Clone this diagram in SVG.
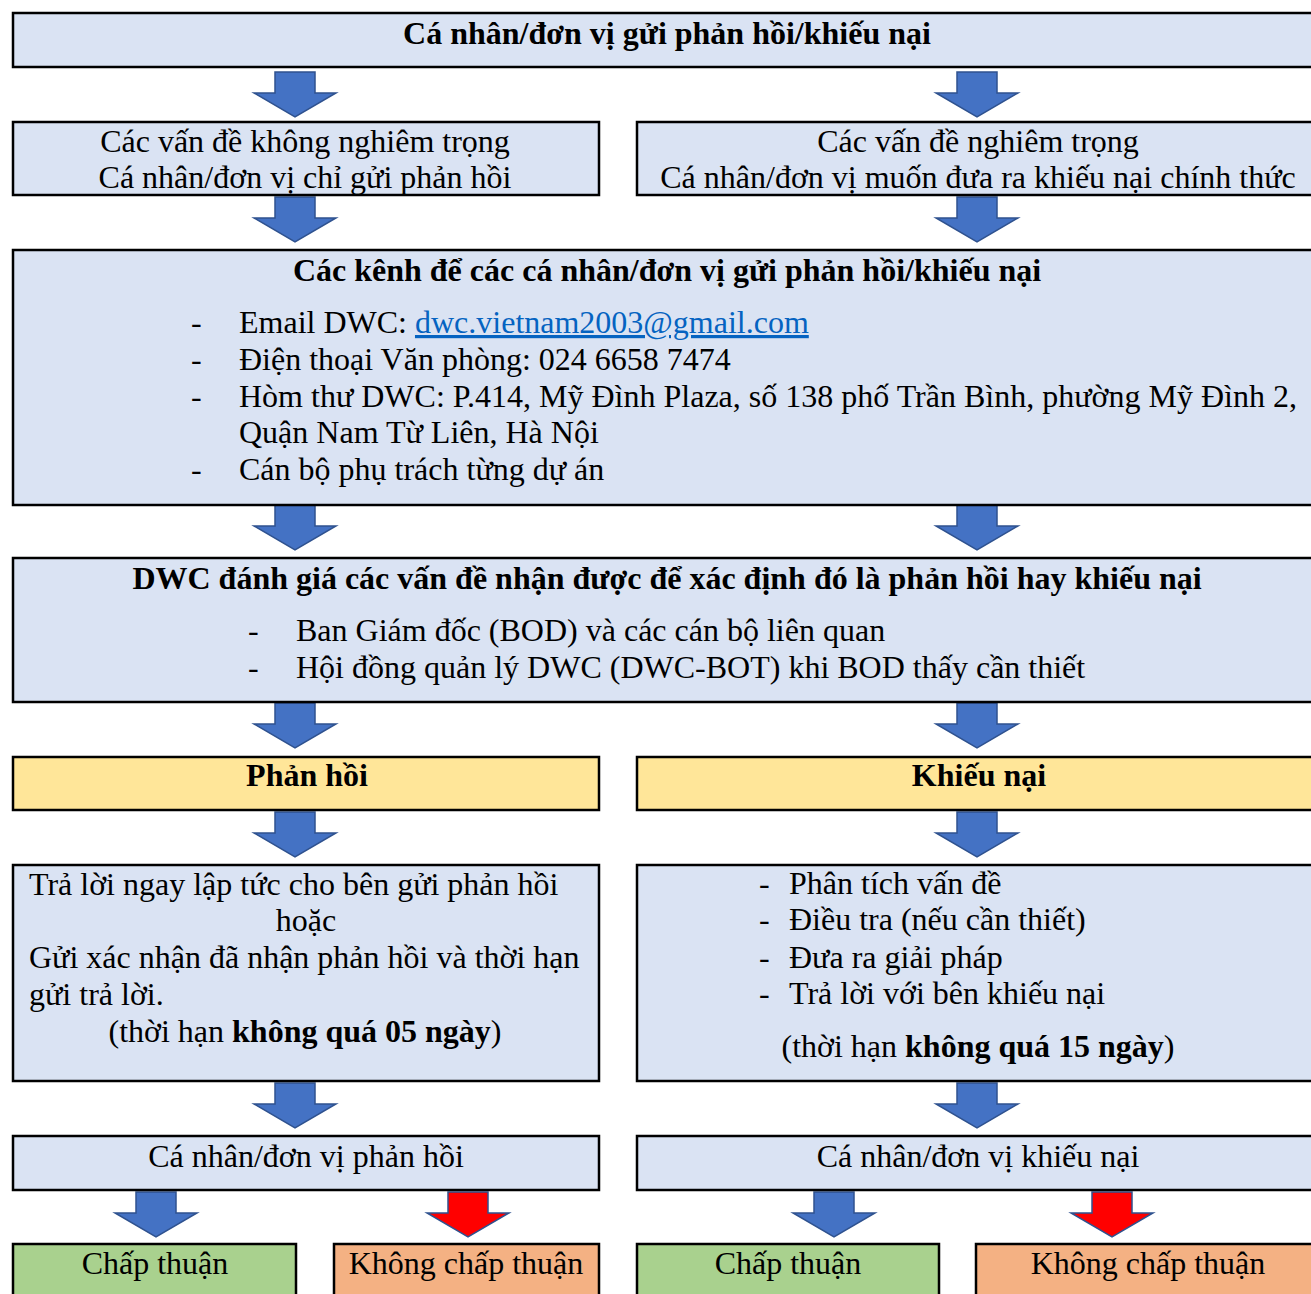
<svg xmlns="http://www.w3.org/2000/svg" xmlns:xlink="http://www.w3.org/1999/xlink" width="1311" height="1294" viewBox="0 0 1311 1294">
<style>
.box{fill:#DAE3F3;stroke:#000;stroke-width:2.5}
.yel{fill:#FFE699;stroke:#000;stroke-width:2.5}
.grn{fill:#A9D18E;stroke:#000;stroke-width:2.5}
.org{fill:#F4B183;stroke:#000;stroke-width:2.5}
text{font-family:"Liberation Serif","Times New Roman",serif;font-size:32px;fill:#000}
.b{font-weight:bold}
.c{text-anchor:middle}
.ab{fill:#4472C4;stroke:#2F528F;stroke-width:1.5}
.ar{fill:#FF0000;stroke:#2F528F;stroke-width:1.5}
.link{fill:#0563C1;text-decoration:underline}
</style>
<defs>
<path id="arr" d="M-20,0 H20 V21 H41 L0,45 L-41,21 H-20 Z"/>
</defs>
<rect width="1311" height="1294" fill="#fff"/>
<g id="connectors">
<use href="#arr" class="ab" x="295" y="72"/>
<use href="#arr" class="ab" x="977" y="72"/>
<use href="#arr" class="ab" x="295" y="197"/>
<use href="#arr" class="ab" x="977" y="197"/>
<use href="#arr" class="ab" x="295" y="505"/>
<use href="#arr" class="ab" x="977" y="505"/>
<use href="#arr" class="ab" x="295" y="703"/>
<use href="#arr" class="ab" x="977" y="703"/>
<use href="#arr" class="ab" x="295" y="812"/>
<use href="#arr" class="ab" x="977" y="812"/>
<use href="#arr" class="ab" x="295" y="1083"/>
<use href="#arr" class="ab" x="977" y="1083"/>
<use href="#arr" class="ab" x="156" y="1192"/>
<use href="#arr" class="ar" x="468" y="1192"/>
<use href="#arr" class="ab" x="834" y="1192"/>
<use href="#arr" class="ar" x="1112" y="1192"/>
</g>
<g id="n-top">
<rect class="box" x="13" y="13" width="1310" height="54"/>
<text class="b c" x="667" y="44">Cá nhân/đơn vị gửi phản hồi/khiếu nại</text>
</g>
<g id="n-minor">
<rect class="box" x="13" y="122" width="586" height="73"/>
<text class="c" x="305" y="152">Các vấn đề không nghiêm trọng</text>
<text class="c" x="305" y="188">Cá nhân/đơn vị chỉ gửi phản hồi</text>
</g>
<g id="n-serious">
<rect class="box" x="637" y="122" width="690" height="73"/>
<text class="c" x="978" y="152">Các vấn đề nghiêm trọng</text>
<text class="c" x="978" y="188">Cá nhân/đơn vị muốn đưa ra khiếu nại chính thức</text>
</g>
<g id="n-channels">
<rect class="box" x="13" y="250" width="1310" height="255"/>
<text class="b c" x="667" y="281">Các kênh để các cá nhân/đơn vị gửi phản hồi/khiếu nại</text>
<text x="191" y="333">-</text><text x="239" y="333">Email DWC: <tspan class="link">dwc.vietnam2003@gmail.com</tspan></text>
<text x="191" y="370">-</text><text x="239" y="370">Điện thoại Văn phòng: 024 6658 7474</text>
<text x="191" y="407">-</text><text x="239" y="407">Hòm thư DWC: P.414, Mỹ Đình Plaza, số 138 phố Trần Bình, phường Mỹ Đình 2,</text>
<text x="239" y="443">Quận Nam Từ Liên, Hà Nội</text>
<text x="191" y="480">-</text><text x="239" y="480">Cán bộ phụ trách từng dự án</text>
</g>
<g id="n-assess">
<rect class="box" x="13" y="558" width="1310" height="144"/>
<text class="b c" x="667" y="589">DWC đánh giá các vấn đề nhận được để xác định đó là phản hồi hay khiếu nại</text>
<text x="248" y="641">-</text><text x="296" y="641">Ban Giám đốc (BOD) và các cán bộ liên quan</text>
<text x="248" y="678">-</text><text x="296" y="678">Hội đồng quản lý DWC (DWC-BOT) khi BOD thấy cần thiết</text>
</g>
<g id="n-feedback">
<rect class="yel" x="13" y="757" width="586" height="53"/>
<text class="b c" x="307" y="786">Phản hồi</text>
</g>
<g id="n-complaint">
<rect class="yel" x="637" y="757" width="690" height="53"/>
<text class="b c" x="979" y="786">Khiếu nại</text>
</g>
<g id="n-reply">
<rect class="box" x="13" y="865" width="586" height="216"/>
<text x="29" y="895">Trả lời ngay lập tức cho bên gửi phản hồi</text>
<text class="c" x="306" y="931">hoặc</text>
<text x="29" y="968">Gửi xác nhận đã nhận phản hồi và thời hạn</text>
<text x="29" y="1005">gửi trả lời.</text>
<text class="c" x="305" y="1042">(thời hạn <tspan class="b">không quá 05 ngày</tspan>)</text>
</g>
<g id="n-process">
<rect class="box" x="637" y="865" width="690" height="216"/>
<text x="759" y="894">-</text><text x="789" y="894">Phân tích vấn đề</text>
<text x="759" y="930">-</text><text x="789" y="930">Điều tra (nếu cần thiết)</text>
<text x="759" y="968">-</text><text x="789" y="968">Đưa ra giải pháp</text>
<text x="759" y="1004">-</text><text x="789" y="1004">Trả lời với bên khiếu nại</text>
<text class="c" x="978" y="1057">(thời hạn <tspan class="b">không quá 15 ngày</tspan>)</text>
</g>
<g id="n-fb-party">
<rect class="box" x="13" y="1136" width="586" height="54"/>
<text class="c" x="306" y="1167">Cá nhân/đơn vị phản hồi</text>
</g>
<g id="n-cp-party">
<rect class="box" x="637" y="1136" width="690" height="54"/>
<text class="c" x="978" y="1167">Cá nhân/đơn vị khiếu nại</text>
</g>
<g id="n-fb-accept">
<rect class="grn" x="13" y="1244" width="283" height="70"/>
<text class="c" x="155" y="1274">Chấp thuận</text>
</g>
<g id="n-fb-reject">
<rect class="org" x="334" y="1244" width="265" height="70"/>
<text class="c" x="466" y="1274">Không chấp thuận</text>
</g>
<g id="n-cp-accept">
<rect class="grn" x="637" y="1244" width="302" height="70"/>
<text class="c" x="788" y="1274">Chấp thuận</text>
</g>
<g id="n-cp-reject">
<rect class="org" x="976" y="1244" width="350" height="70"/>
<text class="c" x="1148" y="1274">Không chấp thuận</text>
</g>
</svg>
